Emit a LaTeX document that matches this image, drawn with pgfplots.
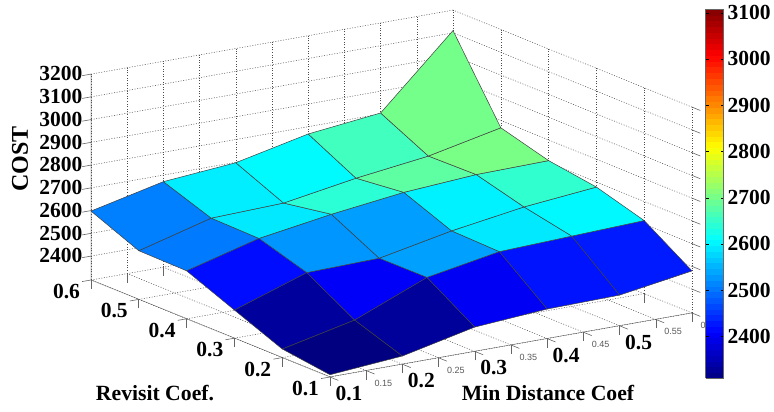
\documentclass[border=0pt]{standalone}
\usepackage{fontspec}
\setmainfont{Liberation Serif}
\newfontfamily\smallsans{Liberation Sans}
\usepackage{pgfplots}
\pgfplotsset{compat=1.18}
\usetikzlibrary{calc}
\def\BL#1{{\bfseries\fontsize{21.5}{21.5}\selectfont #1}}
\def\SL#1{\hspace*{3pt}{\smallsans\fontsize{9}{9}\selectfont\color{black!65}#1}}
\begin{document}
\begin{tikzpicture}[x=1pt,y=1pt]
\begin{axis}[
  x={(724pt,128pt)}, y={(-478pt,194pt)}, z={(0pt,0.2275pt)},
  xmin=0.1,xmax=0.6,ymin=0.1,ymax=0.6,zmin=2295,zmax=3200,
  colormap/jet,
  point meta min=2310, point meta max=3108,
  axis line style={draw=none},
  tick align=outside,
  tick pos=left,
  tick style={draw=black!60,line width=0.6pt},
  major tick length=9pt,
  grid=major,
  major grid style={dash pattern=on 1pt off 1.6pt,draw=black!70,line width=0.5pt},
  xtick={0.1,0.15,0.2,0.25,0.3,0.35,0.4,0.45,0.5,0.55,0.6},
  xticklabels={\BL{0.1},\SL{0.15},\BL{0.2},\SL{0.25},\BL{0.3},\SL{0.35},\BL{0.4},\SL{0.45},\BL{0.5},\SL{0.55},\SL{0.6}},
  ytick={0.1,0.2,0.3,0.4,0.5,0.6},
  yticklabels={\BL{0.1},\BL{0.2},\BL{0.3},\BL{0.4},\BL{0.5},\BL{0.6}},
  ztick={2400,2500,2600,2700,2800,2900,3000,3100,3200},
  zticklabels={\BL{2400},\BL{2500},\BL{2600},\BL{2700},\BL{2800},\BL{2900},\BL{3000},\BL{3100},\BL{3200}},
  xticklabel style={anchor=north west,inner sep=0pt,xshift=-3pt,yshift=-5.6pt},
  yticklabel style={anchor=north east,inner sep=0pt,xshift=-2pt,yshift=-2.4pt},
  zticklabel style={anchor=east,inner sep=0pt,xshift=0pt,yshift=-3pt},
  xlabel={\bfseries\fontsize{21.7}{21.7}\selectfont Min Distance Coef},
  ylabel={\bfseries\fontsize{21.7}{21.7}\selectfont Revisit Coef.},
  zlabel={\bfseries\fontsize{24}{24}\selectfont COST},
  every axis x label/.style={at={(axis cs:0.2718,-0.0958,2295)},anchor=center},
  every axis y label/.style={at={(axis cs:-0.1063,0.1536,2295)},anchor=center},
  every axis z label/.style={at={(axis cs:0.0317,0.6451,2826)},anchor=center,rotate=90},
  colorbar sampled,
  colorbar style={
    samples=65,
    at={(parent axis.south west)},anchor=south west,
    xshift=606pt,yshift=-1pt,
    width=18pt,height=369pt,
    ytick={2400,2500,2600,2700,2800,2900,3000,3100},
    yticklabels={\BL{2400},\BL{2500},\BL{2600},\BL{2700},\BL{2800},\BL{2900},\BL{3000},\BL{3100}},
    yticklabel style={inner sep=0pt,xshift=4pt,yshift=0pt},
    axis line style={draw=black!60},
    tick align=inside,
    major tick length=3pt,
    tick style={draw=black},
    grid=none,
  },
]
\draw[black!65,line width=0.7pt] (axis cs:0.1,0.6,3200) -- (axis cs:0.1,0.6,2295) -- (axis cs:0.1,0.1,2295) -- (axis cs:0.6,0.1,2295);
\addplot3[surf,shader=flat corner,draw=black!75,line width=0.5pt,z buffer=none,mesh/rows=6,mesh/cols=6,mesh/ordering=x varies] coordinates {
(0.1,0.1,2305) (0.2,0.1,2331) (0.3,0.1,2402) (0.4,0.1,2425) (0.5,0.1,2430) (0.6,0.1,2480)
(0.1,0.2,2333) (0.2,0.2,2404) (0.3,0.2,2535) (0.4,0.2,2592) (0.5,0.2,2604) (0.6,0.2,2616)
(0.1,0.3,2419) (0.2,0.3,2527) (0.3,0.3,2534) (0.4,0.3,2598) (0.5,0.3,2647) (0.6,0.3,2678)
(0.1,0.4,2506) (0.2,0.4,2592) (0.3,0.4,2642) (0.4,0.4,2682) (0.5,0.4,2704) (0.6,0.4,2709)
(0.1,0.5,2509) (0.2,0.5,2596) (0.3,0.5,2606) (0.4,0.5,2659) (0.5,0.5,2700) (0.6,0.5,2768)
(0.1,0.6,2598) (0.2,0.6,2671) (0.3,0.6,2698) (0.4,0.6,2768) (0.5,0.6,2804) (0.6,0.6,3110)
};
\coordinate (fc) at (axis cs:0.1,0.1,2295);
\end{axis}
\pgfresetboundingbox
\useasboundingbox ($(fc)+(-330pt,377pt)$) rectangle ($(fc)+(444pt,-35pt)$);
\end{tikzpicture}
\end{document}
